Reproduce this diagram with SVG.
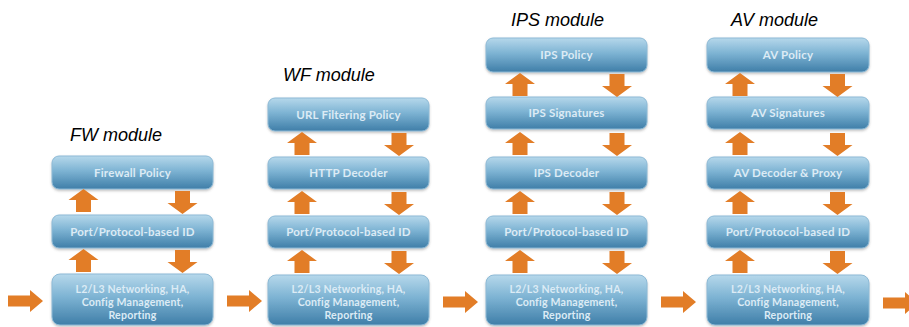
<svg xmlns="http://www.w3.org/2000/svg" xmlns:xlink="http://www.w3.org/1999/xlink" width="909" height="327" viewBox="0 0 909 327">
<style>
.box{fill:url(#bg);stroke:#8dbad6;stroke-width:1;filter:url(#sh)}
.bt{font-family:Lato,"Open Sans",sans-serif;font-size:11.5px;font-weight:700;fill:#dcebf5;text-anchor:middle;letter-spacing:0.2px}
.l2{font-size:10.6px}
.title{font-family:"Liberation Sans",Arial,sans-serif;font-style:italic;font-size:18px;fill:#000}
.arr{fill:#e27d27}
</style>
<defs>
<linearGradient id="bg" x1="0" y1="0" x2="0" y2="1">
<stop offset="0" stop-color="#b6d8eb"/>
<stop offset="0.45" stop-color="#7db3d3"/>
<stop offset="1" stop-color="#3f7ea8"/>
</linearGradient>
<filter id="sh" x="-10%" y="-20%" width="120%" height="150%">
<feDropShadow dx="0" dy="1.5" stdDeviation="1.2" flood-color="#555" flood-opacity="0.35"/>
</filter>
<path id="up" class="arr" d="M0,0 L15,11 L7.5,11 L7.5,23 L-7.5,23 L-7.5,11 L-15,11 Z"/>
<path id="dn" class="arr" d="M0,23 L15,12 L7.5,12 L7.5,0 L-7.5,0 L-7.5,12 L-15,12 Z"/>
<path id="rt" class="arr" d="M0,-5.5 L22,-5.5 L22,-11 L35,0 L22,11 L22,5.5 L0,5.5 Z"/>
</defs>
<rect width="909" height="327" fill="#fff"/>

<text class="title" x="70" y="141">FW module</text>
<text class="title" x="283" y="81">WF module</text>
<text class="title" x="511" y="26">IPS module</text>
<text class="title" x="731" y="26">AV module</text>

<g id="fw-policy"><rect class="box" x="52" y="156" width="161" height="33" rx="7"/><text class="bt" x="132.5" y="176.5">Firewall Policy</text></g>
<g id="fw-port"><rect class="box" x="52" y="215" width="161" height="33" rx="7"/><text class="bt" x="132.5" y="235.5">Port/Protocol-based ID</text></g>
<g id="fw-l2"><rect class="box" x="52" y="274" width="161" height="51" rx="8"/><text class="bt l2" x="132.5" y="292.5">L2/L3 Networking, HA,</text><text class="bt l2" x="132.5" y="305.5">Config Management,</text><text class="bt l2" x="132.5" y="318.5">Reporting</text></g>

<g id="wf-policy"><rect class="box" x="268" y="98" width="161" height="33" rx="7"/><text class="bt" x="348.5" y="118.5">URL Filtering Policy</text></g>
<g id="wf-http"><rect class="box" x="268" y="157" width="161" height="32" rx="7"/><text class="bt" x="348.5" y="177">HTTP Decoder</text></g>
<g id="wf-port"><rect class="box" x="268" y="216" width="161" height="32" rx="7"/><text class="bt" x="348.5" y="236">Port/Protocol-based ID</text></g>
<g id="wf-l2"><rect class="box" x="268" y="275" width="161" height="50" rx="8"/><text class="bt l2" x="348.5" y="292.5">L2/L3 Networking, HA,</text><text class="bt l2" x="348.5" y="305.5">Config Management,</text><text class="bt l2" x="348.5" y="318.5">Reporting</text></g>

<g id="ips-policy"><rect class="box" x="486" y="38" width="161" height="34" rx="7"/><text class="bt" x="566.5" y="59">IPS Policy</text></g>
<g id="ips-sig"><rect class="box" x="486" y="97" width="161" height="32" rx="7"/><text class="bt" x="566.5" y="117">IPS Signatures</text></g>
<g id="ips-dec"><rect class="box" x="486" y="157" width="161" height="32" rx="7"/><text class="bt" x="566.5" y="177">IPS Decoder</text></g>
<g id="ips-port"><rect class="box" x="486" y="216" width="161" height="32" rx="7"/><text class="bt" x="566.5" y="236">Port/Protocol-based ID</text></g>
<g id="ips-l2"><rect class="box" x="486" y="275" width="161" height="50" rx="8"/><text class="bt l2" x="566.5" y="292.5">L2/L3 Networking, HA,</text><text class="bt l2" x="566.5" y="305.5">Config Management,</text><text class="bt l2" x="566.5" y="318.5">Reporting</text></g>

<g id="av-policy"><rect class="box" x="707" y="38" width="162" height="34" rx="7"/><text class="bt" x="788" y="59">AV Policy</text></g>
<g id="av-sig"><rect class="box" x="707" y="97" width="162" height="32" rx="7"/><text class="bt" x="788" y="117">AV Signatures</text></g>
<g id="av-dec"><rect class="box" x="707" y="157" width="162" height="32" rx="7"/><text class="bt" x="788" y="177">AV Decoder &amp; Proxy</text></g>
<g id="av-port"><rect class="box" x="707" y="216" width="162" height="32" rx="7"/><text class="bt" x="788" y="236">Port/Protocol-based ID</text></g>
<g id="av-l2"><rect class="box" x="707" y="275" width="162" height="50" rx="8"/><text class="bt l2" x="788" y="292.5">L2/L3 Networking, HA,</text><text class="bt l2" x="788" y="305.5">Config Management,</text><text class="bt l2" x="788" y="318.5">Reporting</text></g>

<g id="connectors">
<use href="#up" x="83.5" y="189"/><use href="#dn" x="182.5" y="191"/>
<use href="#up" x="83.5" y="249"/><use href="#dn" x="182.5" y="250"/>

<use href="#up" x="302" y="132"/><use href="#dn" x="399" y="133"/>
<use href="#up" x="302" y="191"/><use href="#dn" x="399" y="192"/>
<use href="#up" x="302" y="250"/><use href="#dn" x="399" y="251"/>

<use href="#up" x="520" y="73"/><use href="#dn" x="617" y="74"/>
<use href="#up" x="520" y="132"/><use href="#dn" x="617" y="133"/>
<use href="#up" x="520" y="191"/><use href="#dn" x="617" y="192"/>
<use href="#up" x="520" y="250"/><use href="#dn" x="617" y="251"/>

<use href="#up" x="740" y="73"/><use href="#dn" x="837.5" y="74"/>
<use href="#up" x="740" y="132"/><use href="#dn" x="837.5" y="133"/>
<use href="#up" x="740" y="191"/><use href="#dn" x="837.5" y="192"/>
<use href="#up" x="740" y="250"/><use href="#dn" x="837.5" y="251"/>

<use href="#rt" x="8" y="301"/>
<use href="#rt" x="227" y="301"/>
<use href="#rt" x="443" y="302"/>
<use href="#rt" x="661" y="302"/>
<use href="#rt" x="883" y="303"/>
</g>
</svg>
